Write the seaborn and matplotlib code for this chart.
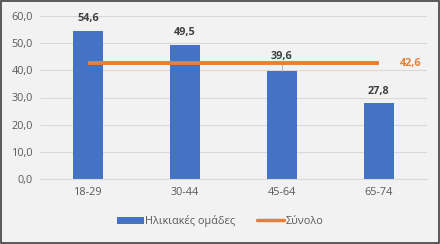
import matplotlib
matplotlib.use("Agg")
import matplotlib.pyplot as plt
import seaborn as sns
import pandas as pd
from matplotlib.lines import Line2D
from matplotlib.patches import Patch, Rectangle

categories = ["18-29", "30-44", "45-64", "65-74"]
values = [54.6, 49.5, 39.6, 27.8]
total = 42.6
yticks = [0, 10, 20, 30, 40, 50, 60]

sns.set_theme(style="white")
plt.rcParams['font.family'] = ['Open Sans', 'DejaVu Sans']

BG = "#f2f2f2"
BLUE = "#4472C4"
ORANGE = "#ED7D31"
TXT = "#595959"
FS = 7.8

fig = plt.figure(figsize=(4.4, 2.44), dpi=100, facecolor=BG)
ax = fig.add_axes([40/440, 1-179/244, 387/440, 163/244])
ax.set_facecolor(BG)

df = pd.DataFrame({"cat": categories, "val": values})
sns.barplot(data=df, x="cat", y="val", color=BLUE, width=0.31, saturation=1, linewidth=0, ax=ax)

ax.plot([0, len(categories)-1], [total, total], color=ORANGE, lw=2.8, solid_capstyle="butt", zorder=4)
ax.text(len(categories)-1 + 0.22, total, f"{total:.1f}".replace(".", ","), color=ORANGE,
        fontsize=FS, fontweight="bold", va="center", ha="left")

offsets = [4.5, 4.5, 5.5, 4.5]
for i, v in enumerate(values):
    ax.text(i, v + offsets[i], f"{v:.1f}".replace(".", ","), ha="center", va="center",
            fontsize=FS, fontweight="bold", color="#404040", zorder=5)
ax.plot([2, 2], [values[2], values[2] + 3.4], color="#a6a6a6", lw=0.6, zorder=3)

ax.set_xlim(-0.5, 3.5)
ax.set_ylim(0, 60)
ax.set_yticks(yticks)
ax.set_yticklabels([f"{t:.1f}".replace(".", ",") for t in yticks], fontsize=FS, color=TXT)
ax.tick_params(axis="x", labelsize=FS, labelcolor=TXT, length=0, pad=6)
ax.tick_params(axis="y", length=0, pad=5)
ax.set_xlabel("")
ax.set_ylabel("")
ax.yaxis.grid(True, color="#d9d9d9", lw=0.8)
ax.set_axisbelow(True)
for s in ["top", "right", "left"]:
    ax.spines[s].set_visible(False)
ax.spines["bottom"].set_color("#d9d9d9")
ax.spines["bottom"].set_linewidth(0.8)

handles = [Patch(facecolor=BLUE, edgecolor="none"),
           Line2D([0], [0], color=ORANGE, lw=2.5)]
fig.legend(handles, ["Ηλικιακές ομάδες", "Σύνολο"], loc="center", bbox_to_anchor=(0.5, 1-221/244),
           ncol=2, frameon=False, fontsize=FS, labelcolor=TXT, handlelength=2.5,
           handleheight=0.6, columnspacing=2.0, handletextpad=0.1)

fig.patches.append(Rectangle((0.002, 0.004), 0.996, 0.992, transform=fig.transFigure,
                             fill=False, edgecolor="#404040", lw=1.2))

fig.savefig("out.png", dpi=100, facecolor=BG)
